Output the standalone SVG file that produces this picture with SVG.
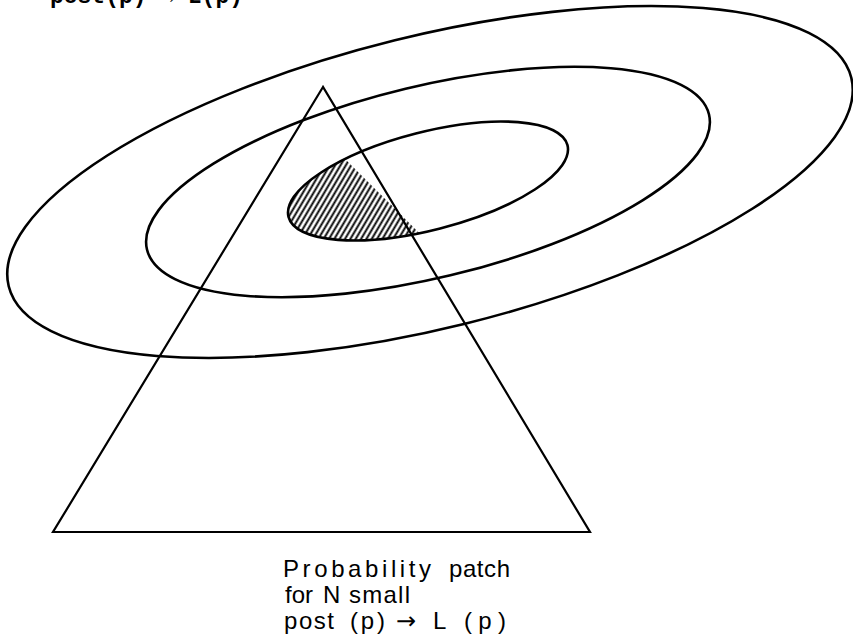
<svg xmlns="http://www.w3.org/2000/svg" width="853" height="639" viewBox="0 0 853 639">
  <style>
    .contour { fill: none; stroke: #000; stroke-width: 2.6; }
    .tri { fill: none; stroke: #000; stroke-width: 2.2; stroke-linejoin: miter; }
    .label { font-family: "Liberation Sans", Arial, sans-serif; font-size: 24px; fill: #000; }
    .arrow { font-family: "DejaVu Sans", sans-serif; font-size: 24px; }
    .formula { font-family: "Liberation Mono", "Courier New", monospace; font-size: 23px; font-weight: bold; fill: #000; }
  </style>
  <defs>
    <pattern id="hatch" width="4.6" height="4.6" patternUnits="userSpaceOnUse" patternTransform="rotate(-45)">
      <line x1="-1" y1="2.3" x2="5.6" y2="2.3" stroke="#000" stroke-width="1.9"/>
    </pattern>
    <clipPath id="leftOfEdge">
      <polygon points="0,0 270.5,0 650,639 0,639"/>
    </clipPath>
  </defs>
  <rect width="853" height="639" fill="#fff"/>

  <g id="top-formula">
    <text class="formula" x="50" y="3" textLength="193" lengthAdjust="spacing">post(p) → L(p)</text>
  </g>

  <g id="hatched-patch">
    <ellipse cx="428" cy="181" rx="144" ry="49" transform="rotate(-14.4 428 181)" fill="url(#hatch)" clip-path="url(#leftOfEdge)"/>
  </g>

  <g id="contours">
    <ellipse id="contour-outer" class="contour" cx="430" cy="182" rx="434" ry="146" transform="rotate(-13.9 430 182)"/>
    <ellipse id="contour-middle" class="contour" cx="428" cy="182" rx="289" ry="96" transform="rotate(-13.5 428 182)"/>
    <ellipse id="contour-inner" class="contour" cx="428" cy="181" rx="144" ry="49" transform="rotate(-14.4 428 181)"/>
  </g>

  <g id="triangle">
    <polygon class="tri" points="323,87 53,532 590,532"/>
  </g>

  <g id="caption">
    <text class="label" y="577"><tspan x="283" textLength="148" lengthAdjust="spacing">Probability</tspan> <tspan x="449" textLength="61" lengthAdjust="spacing">patch</tspan></text>
    <text class="label" y="603"><tspan x="285">for</tspan> <tspan x="323">N</tspan> <tspan x="349" textLength="61" lengthAdjust="spacing">small</tspan></text>
    <text class="label" y="629"><tspan x="284" textLength="50" lengthAdjust="spacing">post</tspan> <tspan x="350" textLength="35" lengthAdjust="spacing">(p)</tspan> <tspan class="arrow" x="396">→</tspan> <tspan x="433">L</tspan> <tspan x="464" textLength="42" lengthAdjust="spacing">(p)</tspan></text>
  </g>
</svg>
